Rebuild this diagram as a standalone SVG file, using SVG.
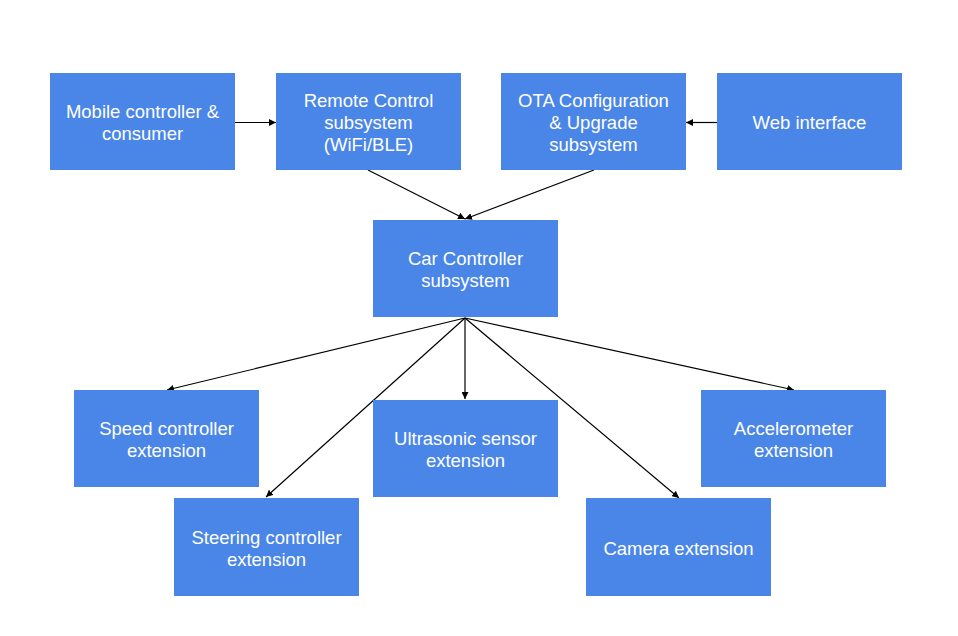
<svg xmlns="http://www.w3.org/2000/svg" width="958" height="636" viewBox="0 0 958 636">
<style>
.n rect{fill:#4a86e8}
.n text{fill:#fff;font-family:"Liberation Sans",Arial,sans-serif;font-size:18.5px;text-anchor:middle}
.c line{stroke:#000;stroke-width:1.2;marker-end:url(#ah)}
</style>
<defs>
<marker id="ah" viewBox="0 0 10 10" refX="10" refY="5" markerWidth="7" markerHeight="7" markerUnits="userSpaceOnUse" orient="auto"><path d="M0,0L10,5L0,10z" fill="#000"/></marker>
</defs>
<rect width="958" height="636" fill="#fff"/>
<g class="c">
<line x1="235" y1="122.5" x2="276" y2="122.5"/>
<line x1="717" y1="122.5" x2="686" y2="122.5"/>
<line x1="368" y1="170" x2="465" y2="219"/>
<line x1="594" y1="170" x2="465" y2="219"/>
<line x1="465" y1="318" x2="167" y2="390"/>
<line x1="465" y1="318" x2="266" y2="497"/>
<line x1="465" y1="318" x2="465" y2="399"/>
<line x1="465" y1="318" x2="679" y2="498"/>
<line x1="465" y1="318" x2="794" y2="390"/>
</g>
<g id="mobile" class="n"><rect x="50" y="73" width="185" height="97"/><text x="142.5" y="117.5">Mobile controller &amp;</text><text x="142.5" y="139.5">consumer</text></g>
<g id="remote" class="n"><rect x="276" y="73" width="185" height="97"/><text x="368.5" y="106.5">Remote Control</text><text x="368.5" y="128.5">subsystem</text><text x="368.5" y="150.5">(WiFi/BLE)</text></g>
<g id="ota" class="n"><rect x="501" y="73" width="185" height="97"/><text x="593.5" y="106.5">OTA Configuration</text><text x="593.5" y="128.5">&amp; Upgrade</text><text x="593.5" y="150.5">subsystem</text></g>
<g id="web" class="n"><rect x="717" y="73" width="185" height="97"/><text x="809.5" y="128.5">Web interface</text></g>
<g id="car" class="n"><rect x="373" y="220" width="185" height="97"/><text x="465.5" y="264.5">Car Controller</text><text x="465.5" y="286.5">subsystem</text></g>
<g id="speed" class="n"><rect x="74" y="390" width="185" height="97"/><text x="166.5" y="434.5">Speed controller</text><text x="166.5" y="456.5">extension</text></g>
<g id="ultrasonic" class="n"><rect x="373" y="400" width="185" height="97"/><text x="465.5" y="444.5">Ultrasonic sensor</text><text x="465.5" y="466.5">extension</text></g>
<g id="accel" class="n"><rect x="701" y="390" width="185" height="97"/><text x="793.5" y="434.5">Accelerometer</text><text x="793.5" y="456.5">extension</text></g>
<g id="steering" class="n"><rect x="174" y="498" width="185" height="98"/><text x="266.5" y="543.5">Steering controller</text><text x="266.5" y="565.5">extension</text></g>
<g id="camera" class="n"><rect x="586" y="498" width="185" height="98"/><text x="678.5" y="554.5">Camera extension</text></g>
</svg>
